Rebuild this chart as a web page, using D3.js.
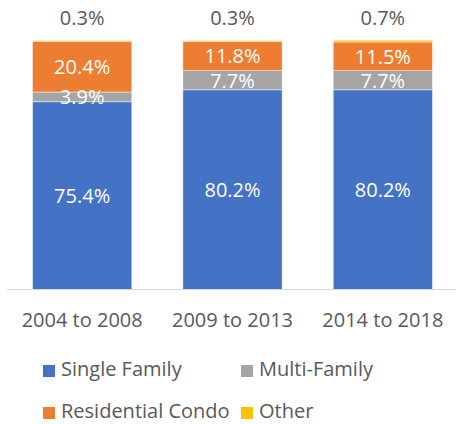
<!DOCTYPE html>
<html>
<head>
<meta charset="utf-8">
<script src="https://cdn.jsdelivr.net/npm/d3@7"></script>
<style>
  html, body { margin: 0; padding: 0; background: #fff; }
  svg { display: block; font-family: "Open Sans", "Noto Sans", sans-serif; }
</style>
</head>
<body>
<svg id="chart" width="456" height="424"></svg>
<script>
// Share of sales by property type, per five-year period
const periods = ["2004 to 2008", "2009 to 2013", "2014 to 2018"];
const seriesNames = ["Single Family", "Multi-Family", "Residential Condo", "Other"];
const singleFamily = [75.4, 80.2, 80.2];
const multiFamily = [3.9, 7.7, 7.7];
const residentialCondo = [20.4, 11.8, 11.5];
const other = [0.3, 0.3, 0.7];
const seriesColors = ["#4472C4", "#A5A5A5", "#ED7D31", "#FFC000"];

const rows = periods.map((p, i) => ({
  period: p,
  "Single Family": singleFamily[i],
  "Multi-Family": multiFamily[i],
  "Residential Condo": residentialCondo[i],
  "Other": other[i]
}));

const svg = d3.select("#chart");
const fontSize = 20;
const textColor = "#595959";

const x = d3.scaleBand().domain(periods).range([7, 458]).paddingInner(0.34).paddingOuter(0.17);
const y = d3.scaleLinear().domain([0, 100]).range([289.5, 40.5]);
const color = d3.scaleOrdinal().domain(seriesNames).range(seriesColors);

const stacked = d3.stack().keys(seriesNames)(rows);

// stacked bars with a thin light outline
const layers = svg.append("g").selectAll("g")
  .data(stacked)
  .join("g")
  .attr("fill", d => color(d.key));

layers.selectAll("rect")
  .data(d => d.map(v => ({ key: d.key, v })))
  .join("rect")
  .attr("x", d => x(d.v.data.period))
  .attr("width", x.bandwidth())
  .attr("y", d => y(d.v[1]))
  .attr("height", d => y(d.v[0]) - y(d.v[1]))
  .attr("stroke", "#ffffff")
  .attr("stroke-opacity", 0.6)
  .attr("stroke-width", 0.75);

// baseline
svg.append("line")
  .attr("x1", 7).attr("x2", 456)
  .attr("y1", y(0)).attr("y2", y(0))
  .attr("stroke", "#d9d9d9").attr("stroke-width", 1.2);

// value labels inside segments (all except "Other")
const inner = stacked.filter(s => s.key !== "Other");
inner.forEach(s => {
  svg.append("g").selectAll("text")
    .data(s)
    .join("text")
    .attr("x", d => x(d.data.period) + x.bandwidth() / 2)
    .attr("y", d => (y(d[0]) + y(d[1])) / 2 + 2)
    .attr("text-anchor", "middle")
    .attr("dominant-baseline", "middle")
    .attr("fill", "#fff")
    .attr("font-size", fontSize)
    .text(d => (d[1] - d[0]).toFixed(1) + "%");
});

// "Other" labels above the bars
svg.append("g").selectAll("text")
  .data(rows)
  .join("text")
  .attr("x", d => x(d.period) + x.bandwidth() / 2)
  .attr("y", 20)
  .attr("text-anchor", "middle")
  .attr("dominant-baseline", "middle")
  .attr("fill", textColor)
  .attr("font-size", fontSize)
  .text(d => d.Other.toFixed(1) + "%");

// category axis
const xAxis = svg.append("g")
  .attr("transform", `translate(0,${y(0)})`)
  .call(d3.axisBottom(x).tickSize(0).tickPadding(0));
xAxis.select(".domain").remove();
xAxis.selectAll("text")
  .attr("y", 32)
  .attr("dy", 0)
  .attr("dominant-baseline", "middle")
  .attr("fill", textColor)
  .attr("font-size", fontSize)
  .attr("font-family", "Open Sans, Noto Sans, sans-serif");

// legend
const legendPos = [[43, 371], [241, 371], [43, 413], [241, 413]];
const legend = svg.append("g").selectAll("g")
  .data(seriesNames)
  .join("g")
  .attr("transform", (d, i) => `translate(${legendPos[i][0]},${legendPos[i][1]})`);
legend.append("rect")
  .attr("x", 0).attr("y", -6)
  .attr("width", 12).attr("height", 12)
  .attr("fill", d => color(d));
legend.append("text")
  .attr("x", 18).attr("y", 0)
  .attr("dominant-baseline", "middle")
  .attr("fill", textColor)
  .attr("font-size", fontSize)
  .text(d => d);
</script>
</body>
</html>
